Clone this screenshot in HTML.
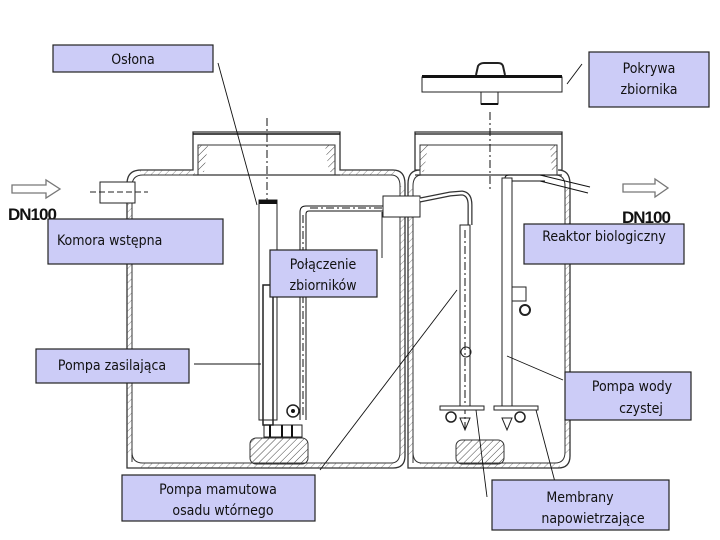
<!DOCTYPE html>
<html><head><meta charset="utf-8"><style>
body{margin:0;background:#fff;}
svg{display:block;}
text{font-family:"DejaVu Sans Condensed","Liberation Sans",sans-serif;font-size:14px;fill:#111;}
.b{fill:#ccccf7;stroke:#222;stroke-width:1.2;}
.w{fill:none;stroke:#333;stroke-width:1.2;}
.t{fill:none;stroke:#111;stroke-width:1;}
.d{fill:none;stroke:#111;stroke-width:1;stroke-dasharray:8 3 2 3;}
</style></head><body>
<svg width="720" height="540" viewBox="0 0 720 540" xmlns="http://www.w3.org/2000/svg">
<defs>
<pattern id="h" width="5" height="5" patternUnits="userSpaceOnUse" patternTransform="rotate(45)">
<line x1="0" y1="0" x2="0" y2="5" stroke="#444" stroke-width="1"/></pattern>
</defs>
<path d="M127,468 L127,184 Q127,170 141,170 L193,170 L193,132 L340,132 L340,170 L393,170 Q405,170 405,184 L405,456 Q405,468 393,468 Z" fill="none" stroke="#333" stroke-width="1.3"/>
<path d="M132,462 L132,186 Q132,175 143,175 L198,175 L198,145 L335,145 L335,175 L391,175 Q400,175 400,186 L400,452 Q400,463 391,463 L143,463 Q132,463 132,452 Z" fill="none" stroke="#333" stroke-width="1"/>
<path d="M198,145 L208,145 L204,172 L198,172Z M325,145 L335,145 L335,172 L329,172Z" fill="url(#h)"/>
<line x1="193" y1="134" x2="340" y2="134" stroke="#111" stroke-width="1.5"/>
<path d="M408,468 L408,184 Q408,170 420,170 L415,170 L415,132 L562,132 L562,170 L558,170 Q570,170 570,184 L570,456 Q570,468 558,468 Z" fill="none" stroke="#333" stroke-width="1.3"/>
<path d="M413,463 L413,186 Q413,175 422,175 L420,175 L420,145 L557,145 L557,175 L555,175 Q565,175 565,186 L565,452 Q565,463 555,463 L422,463 Q413,463 413,452 Z" fill="none" stroke="#333" stroke-width="1"/>
<line x1="415" y1="175" x2="562" y2="175" class="w"/>
<line x1="193" y1="175" x2="340" y2="175" class="w"/>
<line x1="415" y1="134" x2="562" y2="134" stroke="#111" stroke-width="1.3"/>
<path d="M420,145 L428,145 L424,172 L420,172Z M550,145 L557,145 L557,172 L552,172Z" fill="url(#h)"/>
<rect x="127" y="186" width="5" height="270" fill="url(#h)" opacity=".6"/>
<rect x="400" y="186" width="5" height="270" fill="url(#h)" opacity=".6"/>
<rect x="408" y="186" width="5" height="270" fill="url(#h)" opacity=".6"/>
<rect x="565" y="186" width="5" height="270" fill="url(#h)" opacity=".6"/>
<rect x="140" y="463" width="255" height="5" fill="url(#h)" opacity=".6"/>
<rect x="420" y="463" width="140" height="5" fill="url(#h)" opacity=".6"/>
<rect x="140" y="170" width="55" height="5" fill="url(#h)" opacity=".6"/>
<rect x="340" y="170" width="55" height="5" fill="url(#h)" opacity=".6"/>
<rect x="250" y="438" width="58" height="26" rx="6" fill="url(#h)" stroke="#333"/>
<rect x="456" y="440" width="48" height="24" rx="6" fill="url(#h)" stroke="#333"/>
<rect x="422" y="77" width="140" height="15" fill="#fff" stroke="#222"/>
<rect x="422" y="75" width="140" height="3" fill="#111"/>
<path d="M476,75 L478,66 Q480,63 484,63 L498,63 Q502,63 503,66 L505,75" fill="none" stroke="#222" stroke-width="2"/>
<rect x="481" y="92" width="17" height="12" fill="#fff" stroke="#222"/>
<rect x="481" y="103" width="17" height="2" fill="#111"/>
<line x1="490" y1="112" x2="490" y2="190" class="d"/>
<line x1="267" y1="118" x2="267" y2="205" class="d"/>
<rect x="100" y="182" width="35" height="21" fill="#fff" stroke="#222"/>
<line x1="90" y1="192" x2="148" y2="192" stroke="#222" stroke-dasharray="6 3"/>
<path d="M12,185 L46,185 L46,180 L60,189 L46,198 L46,193 L12,193 Z" fill="#fff" stroke="#777" stroke-width="1.3"/>
<text x="8" y="220" style="font-family:'Liberation Sans',sans-serif;font-weight:bold;font-size:17px;letter-spacing:-1px">DN100</text>
<path d="M623,184 L655,184 L655,179 L668,188 L655,197 L655,192 L623,192 Z" fill="#fff" stroke="#777" stroke-width="1.3"/>
<text x="622" y="223" style="font-family:'Liberation Sans',sans-serif;font-weight:bold;font-size:17px;letter-spacing:-1px">DN100</text>
<rect x="259" y="200" width="18" height="220" fill="#fff" stroke="#222"/>
<rect x="259" y="200" width="18" height="4" fill="#111"/>
<rect x="263" y="285" width="10" height="140" fill="none" stroke="#222" stroke-width="1.5"/>
<rect x="264" y="425" width="38" height="12" fill="none" stroke="#222"/>
<line x1="270" y1="425" x2="270" y2="437" stroke="#111" stroke-width="2"/><line x1="282" y1="425" x2="282" y2="437" stroke="#111" stroke-width="2"/><line x1="292" y1="425" x2="292" y2="437" stroke="#111" stroke-width="2"/>
<path d="M300,420 L300,212 Q300,206 306,206 L383,206" class="t"/>
<path d="M306,420 L306,214 Q306,211 309,211 L383,211" class="t"/>
<line x1="303" y1="215" x2="303" y2="415" class="d"/>
<line x1="310" y1="208" x2="383" y2="208" class="d"/>
<circle cx="293" cy="411" r="6" fill="#fff" stroke="#222" stroke-width="1.5"/><circle cx="293" cy="411" r="2" fill="#111"/>
<rect x="383" y="196" width="37" height="21" fill="#fff" stroke="#222"/>
<path d="M420,200 L450,194 L462,193 Q470,194 470,205 L470,225" fill="none" stroke="#333" stroke-width="5"/>
<path d="M420,200 L450,194 L462,193 Q470,194 470,205 L470,225" fill="none" stroke="#fff" stroke-width="2.5"/>
<rect x="460" y="225" width="10" height="185" fill="#fff" stroke="#222"/>
<line x1="465" y1="230" x2="465" y2="430" class="d"/>
<circle cx="466" cy="352" r="5" fill="none" stroke="#222"/>
<rect x="502" y="178" width="10" height="232" fill="#fff" stroke="#222"/>
<path d="M505,178 Q505,175 510,175 L545,175" class="t"/><path d="M512,181 L545,181" class="t"/>
<path d="M540,175 L590,187 M540,181 L588,193" class="t"/>
<rect x="512" y="287" width="14" height="14" fill="none" stroke="#222"/>
<circle cx="525" cy="310" r="5" fill="none" stroke="#222" stroke-width="2"/>
<rect x="440" y="406" width="44" height="4" fill="#fff" stroke="#222"/>
<rect x="494" y="406" width="44" height="4" fill="#fff" stroke="#222"/>
<circle cx="451" cy="417" r="5" fill="none" stroke="#222" stroke-width="1.5"/>
<circle cx="520" cy="417" r="5" fill="none" stroke="#222" stroke-width="1.5"/>
<path d="M460,418 L470,418 L465,430Z M502,418 L512,418 L507,430Z" fill="none" stroke="#222"/>
<g stroke="#111" stroke-width="0.9">
<line x1="218" y1="63" x2="257" y2="205"/>
<line x1="582" y1="64" x2="567" y2="84"/>
<line x1="382" y1="212" x2="382" y2="258"/>
<line x1="194" y1="364" x2="261" y2="364"/>
<line x1="320" y1="470" x2="457" y2="290"/>
<line x1="507" y1="356" x2="563" y2="380"/>
<line x1="476" y1="410" x2="487" y2="497"/>
<line x1="536" y1="410" x2="555" y2="482"/>
</g>
<rect class="b" x="53" y="45" width="160" height="27"/><text x="133" y="64" text-anchor="middle">Osłona</text>
<rect class="b" x="589" y="52" width="120" height="55"/><text x="649" y="73" text-anchor="middle">Pokrywa</text><text x="649" y="94" text-anchor="middle">zbiornika</text>
<rect class="b" x="48" y="219" width="175" height="45"/><text x="57" y="245">Komora wstępna</text>
<rect class="b" x="270" y="250" width="107" height="47"/><text x="323" y="269" text-anchor="middle">Połączenie</text><text x="323" y="290" text-anchor="middle">zbiorników</text>
<rect class="b" x="524" y="224" width="160" height="40"/><text x="604" y="241" text-anchor="middle">Reaktor biologiczny</text>
<rect class="b" x="36" y="349" width="153" height="34"/><text x="112" y="370" text-anchor="middle">Pompa zasilająca</text>
<rect class="b" x="565" y="372" width="126" height="48"/><text x="632" y="391" text-anchor="middle">Pompa wody</text><text x="641" y="413" text-anchor="middle">czystej</text>
<rect class="b" x="122" y="475" width="193" height="46"/><text x="218" y="494" text-anchor="middle">Pompa mamutowa</text><text x="223" y="515" text-anchor="middle">osadu wtórnego</text>
<rect class="b" x="492" y="480" width="177" height="50"/><text x="580" y="502" text-anchor="middle">Membrany</text><text x="593" y="523" text-anchor="middle">napowietrzające</text>
</svg>
</body></html>
